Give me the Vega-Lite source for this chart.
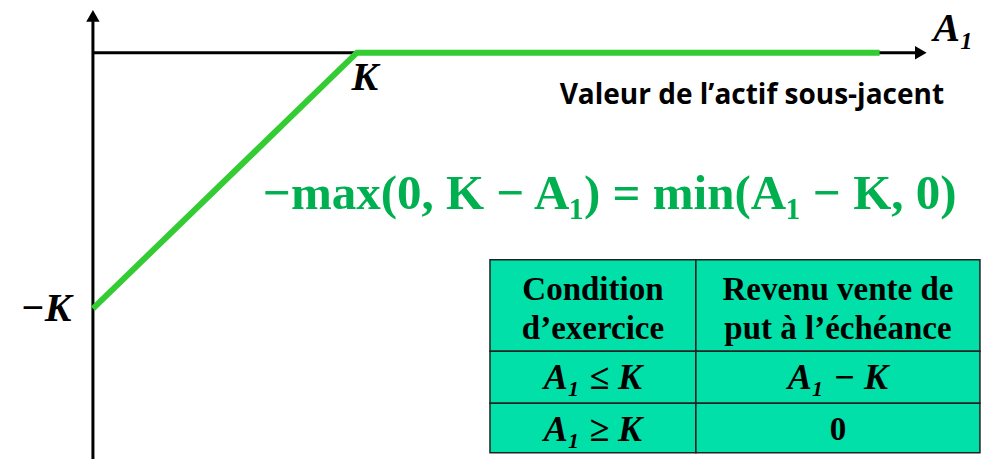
{
  "$schema": "https://vega.github.io/schema/vega-lite/v6.json",
  "width": 995,
  "height": 461,
  "padding": 0,
  "autosize": {"type": "fit", "contains": "padding"},
  "config": {"view": {"stroke": null}},
  "background": "white",
  "layer": [
    {
      "data": {"values": [
        {"x": 1.504, "x2": 2.284, "y": -0.809, "y2": -1.167},
        {"x": 2.284, "x2": 3.360, "y": -0.809, "y2": -1.167},
        {"x": 1.504, "x2": 2.284, "y": -1.167, "y2": -1.370},
        {"x": 2.284, "x2": 3.360, "y": -1.167, "y2": -1.370},
        {"x": 1.504, "x2": 2.284, "y": -1.370, "y2": -1.564},
        {"x": 2.284, "x2": 3.360, "y": -1.370, "y2": -1.564}
      ]},
      "mark": {"type": "rect", "fill": "#00E0A8", "stroke": "#222222", "strokeWidth": 1.5},
      "encoding": {
        "x": {"field": "x", "type": "quantitative", "scale": {"domain": [-0.352, 3.417], "nice": false, "zero": false}, "axis": null},
        "x2": {"field": "x2"},
        "y": {"field": "y", "type": "quantitative", "scale": {"domain": [-1.588, 0.206], "nice": false, "zero": false}, "axis": null},
        "y2": {"field": "y2"}
      }
    },
    {
      "data": {"values": [
        {"x": 0, "y": -1.588, "x2": 0, "y2": 0.15},
        {"x": 0, "y": 0, "x2": 3.13, "y2": 0}
      ]},
      "mark": {"type": "rule", "color": "black", "strokeWidth": 3},
      "encoding": {
        "x": {"field": "x", "type": "quantitative"},
        "y": {"field": "y", "type": "quantitative"},
        "x2": {"field": "x2"},
        "y2": {"field": "y2"}
      }
    },
    {
      "data": {"values": [
        {"x": 0, "y": 0.144, "s": "triangle-up"},
        {"x": 3.136, "y": 0, "s": "triangle-right"}
      ]},
      "mark": {"type": "point", "filled": true, "color": "black", "opacity": 1, "size": 180},
      "encoding": {
        "x": {"field": "x", "type": "quantitative"},
        "y": {"field": "y", "type": "quantitative"},
        "shape": {"field": "s", "type": "nominal", "scale": null, "legend": null}
      }
    },
    {
      "data": {"values": [
        {"x": 0, "y": -1},
        {"x": 1, "y": 0},
        {"x": 2.98, "y": 0}
      ]},
      "mark": {"type": "line", "color": "#33CC33", "strokeWidth": 6, "strokeCap": "butt"},
      "encoding": {
        "x": {"field": "x", "type": "quantitative"},
        "y": {"field": "y", "type": "quantitative"}
      }
    },
    {
      "data": {"values": [
        {"x": 1.030, "y": -0.100, "t": "K"},
        {"x": -0.178, "y": -1.0, "t": "−K"},
        {"x": 3.260, "y": 0.092, "t": "A₁"}
      ]},
      "mark": {"type": "text", "font": "Liberation Serif", "fontWeight": "bold", "fontStyle": "italic", "fontSize": 40, "color": "black", "align": "center", "baseline": "middle"},
      "encoding": {
        "x": {"field": "x", "type": "quantitative"},
        "y": {"field": "y", "type": "quantitative"},
        "text": {"field": "t"}
      }
    },
    {
      "data": {"values": [
        {"x": 2.496, "y": -0.171, "t": "Valeur de l’actif sous-jacent"}
      ]},
      "mark": {"type": "text", "font": "Open Sans", "fontWeight": "bold", "fontSize": 28, "color": "black", "align": "center", "baseline": "middle"},
      "encoding": {
        "x": {"field": "x", "type": "quantitative"},
        "y": {"field": "y", "type": "quantitative"},
        "text": {"field": "t"}
      }
    },
    {
      "data": {"values": [
        {"x": 1.958, "y": -0.553, "t": "−max(0, K − A₁) = min(A₁ − K, 0)"}
      ]},
      "mark": {"type": "text", "font": "Liberation Serif", "fontWeight": "bold", "fontSize": 49, "color": "#00B050", "align": "center", "baseline": "middle"},
      "encoding": {
        "x": {"field": "x", "type": "quantitative"},
        "y": {"field": "y", "type": "quantitative"},
        "text": {"field": "t"}
      }
    },
    {
      "data": {"values": [
        {"x": 1.894, "y": -0.926, "t": "Condition"},
        {"x": 1.894, "y": -1.078, "t": "d’exercice"},
        {"x": 2.822, "y": -0.926, "t": "Revenu vente de"},
        {"x": 2.822, "y": -1.078, "t": "put à l’échéance"},
        {"x": 2.822, "y": -1.475, "t": "0"}
      ]},
      "mark": {"type": "text", "font": "Liberation Serif", "fontWeight": "bold", "fontSize": 33, "color": "black", "align": "center", "baseline": "middle"},
      "encoding": {
        "x": {"field": "x", "type": "quantitative"},
        "y": {"field": "y", "type": "quantitative"},
        "text": {"field": "t"}
      }
    },
    {
      "data": {"values": [
        {"x": 1.894, "y": -1.272, "t": "A₁ ≤ K"},
        {"x": 2.822, "y": -1.272, "t": "A₁ − K"},
        {"x": 1.894, "y": -1.475, "t": "A₁ ≥ K"}
      ]},
      "mark": {"type": "text", "font": "Liberation Serif", "fontWeight": "bold", "fontStyle": "italic", "fontSize": 36, "color": "black", "align": "center", "baseline": "middle"},
      "encoding": {
        "x": {"field": "x", "type": "quantitative"},
        "y": {"field": "y", "type": "quantitative"},
        "text": {"field": "t"}
      }
    }
  ]
}
